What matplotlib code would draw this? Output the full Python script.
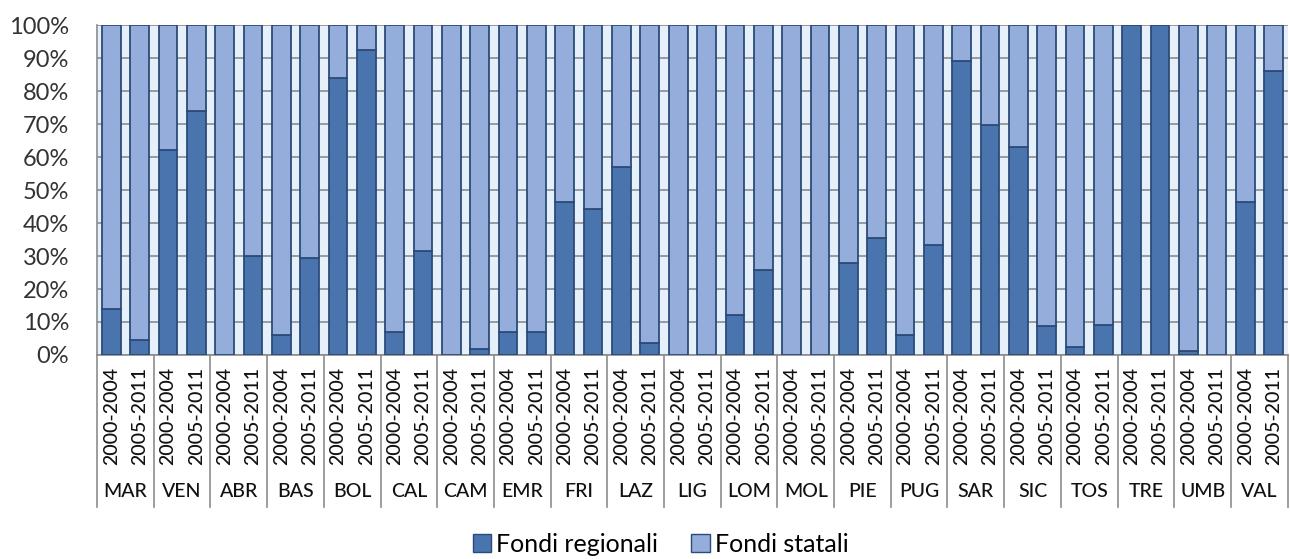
import matplotlib.pyplot as plt
import matplotlib.transforms as mtransforms
from matplotlib.patches import Patch
import numpy as np

plt.rcParams['font.family'] = ['Lato', 'DejaVu Sans']

# regions and periods
regions = ["MAR", "VEN", "ABR", "BAS", "BOL", "CAL", "CAM", "EMR", "FRI", "LAZ", "LIG",
           "LOM", "MOL", "PIE", "PUG", "SAR", "SIC", "TOS", "TRE", "UMB", "VAL"]
periods = ["2000-2004", "2005-2011"]

# share of regional funds (%), first and second period per region
regionali_0004 = [14, 62, 0, 6, 84, 7, 0, 7, 46.5, 57, 0, 12, 0, 28, 6, 89, 63, 2.5, 100, 1.3, 46.4]
regionali_0511 = [4.5, 74, 30, 29.5, 92.4, 31.4, 1.7, 7, 44.2, 3.7, 0, 25.8, 0, 35.6, 33.2, 69.7, 8.7, 9.2, 100, 0, 86]

regionali = np.array([v for pair in zip(regionali_0004, regionali_0511) for v in pair])
statali = 100 - regionali
labels = periods * len(regions)
x = np.arange(len(regionali))

dark = "#4A74AE"
light = "#94ADDA"
edge = "#2B4B78"

fig = plt.figure(figsize=(12.9, 5.59), dpi=100)
ax = fig.add_axes([0.0752, 0.365, 0.923, 0.59])
ax.set_facecolor("#E6F0FA")

ax.bar(x, regionali, width=0.66, color=dark, edgecolor=edge, linewidth=1.3, zorder=3)
ax.bar(x, statali, width=0.66, bottom=regionali, color=light, edgecolor=edge, linewidth=1.3, zorder=3)

ax.set_xlim(-0.5, len(x) - 0.5)
ax.set_ylim(0, 100)
ax.set_yticks(np.arange(0, 101, 10))
ax.set_yticklabels([f"{v}%" for v in range(0, 101, 10)], fontsize=17, color="#333333")
ax.tick_params(axis="y", length=0, pad=20)
ax.set_xticks([])
ax.yaxis.grid(True, color="#8C8C8C", linewidth=1.2, zorder=1)
ax.set_axisbelow(True)
for s in ["top", "right"]:
    ax.spines[s].set_visible(False)
for s in ["left", "bottom"]:
    ax.spines[s].set_color("#8C8C8C")
    ax.spines[s].set_linewidth(1.2)

# two-level category axis
trans = mtransforms.blended_transform_factory(ax.transData, ax.transAxes)
for xi, lab in zip(x, labels):
    ax.text(xi, -0.035, lab, rotation=90, ha="center", va="top", fontsize=14,
            fontweight="medium", transform=trans, color="#111111")
for gi, reg in enumerate(regions):
    ax.text(2 * gi + 0.5, -0.415, reg, ha="center", va="center", fontsize=14,
            fontweight="medium", transform=trans, color="#111111")
for sep in np.arange(-0.5, len(x), 2):
    ax.plot([sep, sep], [0, -0.46], transform=trans, color="#8C8C8C",
            linewidth=1.2, clip_on=False)

handles = [Patch(facecolor=dark, edgecolor=edge, label="Fondi regionali"),
           Patch(facecolor=light, edgecolor=edge, label="Fondi statali")]
fig.legend(handles=handles, loc="center", bbox_to_anchor=(0.512, 0.026), ncol=2,
           frameon=False, fontsize=18, handlelength=0.75, handleheight=0.75,
           handletextpad=0.2, columnspacing=1.3, borderpad=0.2)

fig.savefig("out.png", dpi=100)
